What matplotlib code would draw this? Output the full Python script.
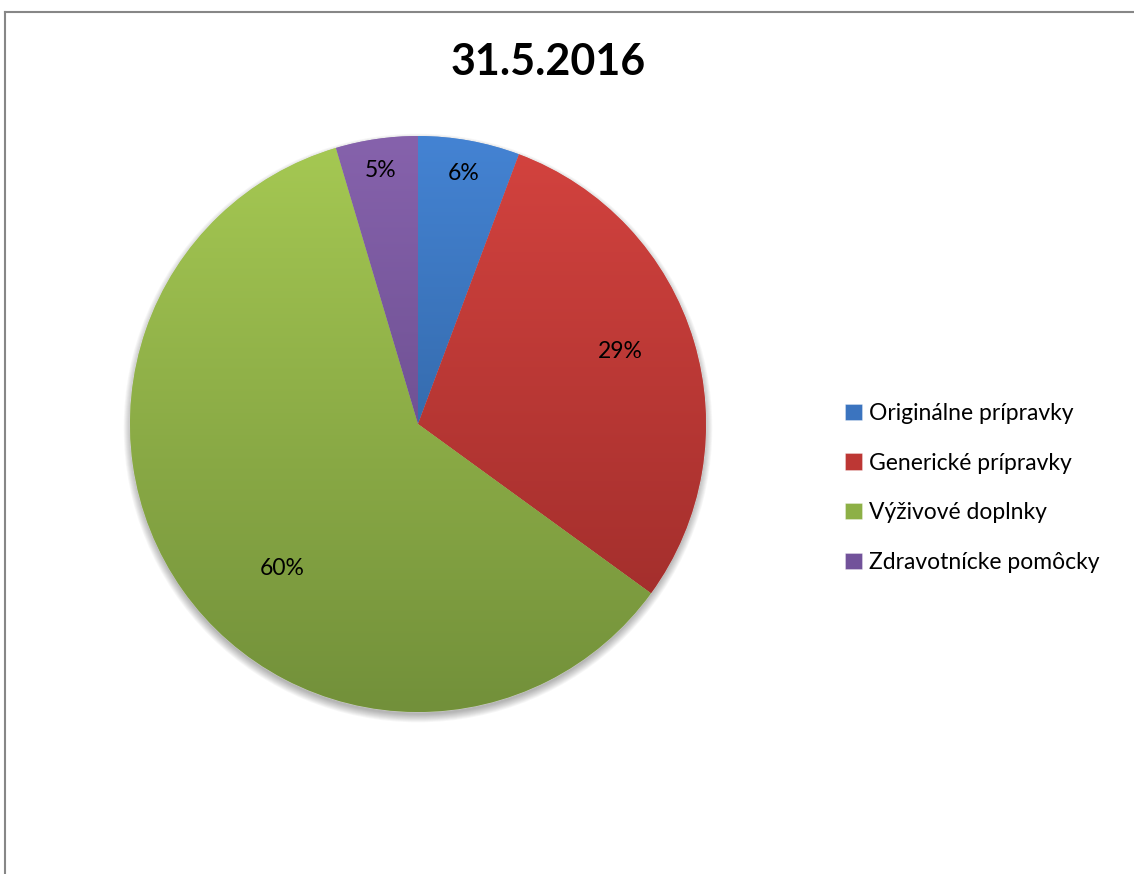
"""
Pie chart: podiel kategórií k 31.5.2016
"""
import numpy as np
import matplotlib.pyplot as plt
from matplotlib.colors import LinearSegmentedColormap
from matplotlib.patches import Circle
from matplotlib.lines import Line2D

# ==========================================
# DATA
# ==========================================
TITLE = "31.5.2016"
categories = ["Originálne prípravky", "Generické prípravky",
              "Výživové doplnky", "Zdravotnícke pomôcky"]
shares = [5.7, 29.3, 60.4, 4.6]
pct_labels = ["6%", "29%", "60%", "5%"]

# gradient colours (top of pie -> bottom of pie)
COLORS_TOP = ["#4483D3", "#D4433F", "#A6C953", "#8662AC"]
COLORS_BOTTOM = ["#27558A", "#982A28", "#72903A", "#5A427D"]
COLORS_MID = ["#3B74BF", "#BD3734", "#8DB046", "#72529A"]

# label placement (radius fraction, angle shift in degrees)
LABEL_R = [0.885, 0.745, 0.69, 0.89]
LABEL_SHIFT = [0, -3, -11.5, 0]

FONT = ["Lato", "DejaVu Sans"]
plt.rcParams['font.family'] = FONT

W, H = 1134, 874
fig = plt.figure(figsize=(W / 100, H / 100), dpi=100)

# pie axes: centre (418, 424) px, radius 288 px
cx, cy, r = 418, 424, 288
ax = fig.add_axes([(cx - r) / W, (H - cy - r) / H, 2 * r / W, 2 * r / H])

wedges, _ = ax.pie(shares, colors=COLORS_MID, startangle=90, counterclock=False,
                   radius=1.0, center=(0, 0), frame=True,
                   wedgeprops=dict(linewidth=0.6, edgecolor=(1, 1, 1, 0.35)))
ax.set_aspect('auto')
ax.set_xlim(-1, 1)
ax.set_ylim(-1, 1)
ax.axis('off')

# soft shadow under the pie
for k in range(10):
    ax.add_patch(Circle((0, -0.014), 0.995 + 0.003 * k, color='black',
                        alpha=0.03, lw=0, zorder=0, clip_on=False))

grad = np.linspace(0, 1, 256).reshape(-1, 1)
for w, ct, cb in zip(wedges, COLORS_TOP, COLORS_BOTTOM):
    cmap = LinearSegmentedColormap.from_list("g", [ct, cb])
    im = ax.imshow(grad, cmap=cmap, extent=(-1, 1, -1, 1), origin='upper',
                   aspect='auto', zorder=w.get_zorder() + 0.1)
    im.set_clip_path(w)

# percentage labels
cum = np.cumsum([0] + shares[:-1])
for i, (s, lab) in enumerate(zip(shares, pct_labels)):
    mid = (cum[i] + s / 2) / 100 * 360 + LABEL_SHIFT[i]
    th = np.deg2rad(90 - mid)
    ax.text(LABEL_R[i] * np.cos(th), LABEL_R[i] * np.sin(th), lab,
            ha='center', va='center', fontsize=16.5, color='black', zorder=10)

ax.set_xlim(-1, 1)
ax.set_ylim(-1, 1)

# title
fig.text(548 / W, 1 - 62 / H, TITLE, ha='center', va='center',
         fontsize=31, fontweight='bold', color='black')

# legend
fig.legend(wedges, categories, loc='center left',
           bbox_to_anchor=(834 / W, 1 - 488 / H), frameon=False,
           fontsize=16.5, handlelength=0.72, handleheight=0.72,
           handletextpad=0.3, labelspacing=1.25, borderpad=0)

# chart-area border (left + top)
bx, by = 4.5 / W, 1 - 11.5 / H
fig.add_artist(Line2D([bx, bx], [0, by], color='#878787', lw=1.5,
                      transform=fig.transFigure))
fig.add_artist(Line2D([bx, 1], [by, by], color='#878787', lw=1.5,
                      transform=fig.transFigure))

fig.savefig("out.png", dpi=100, facecolor='white')
